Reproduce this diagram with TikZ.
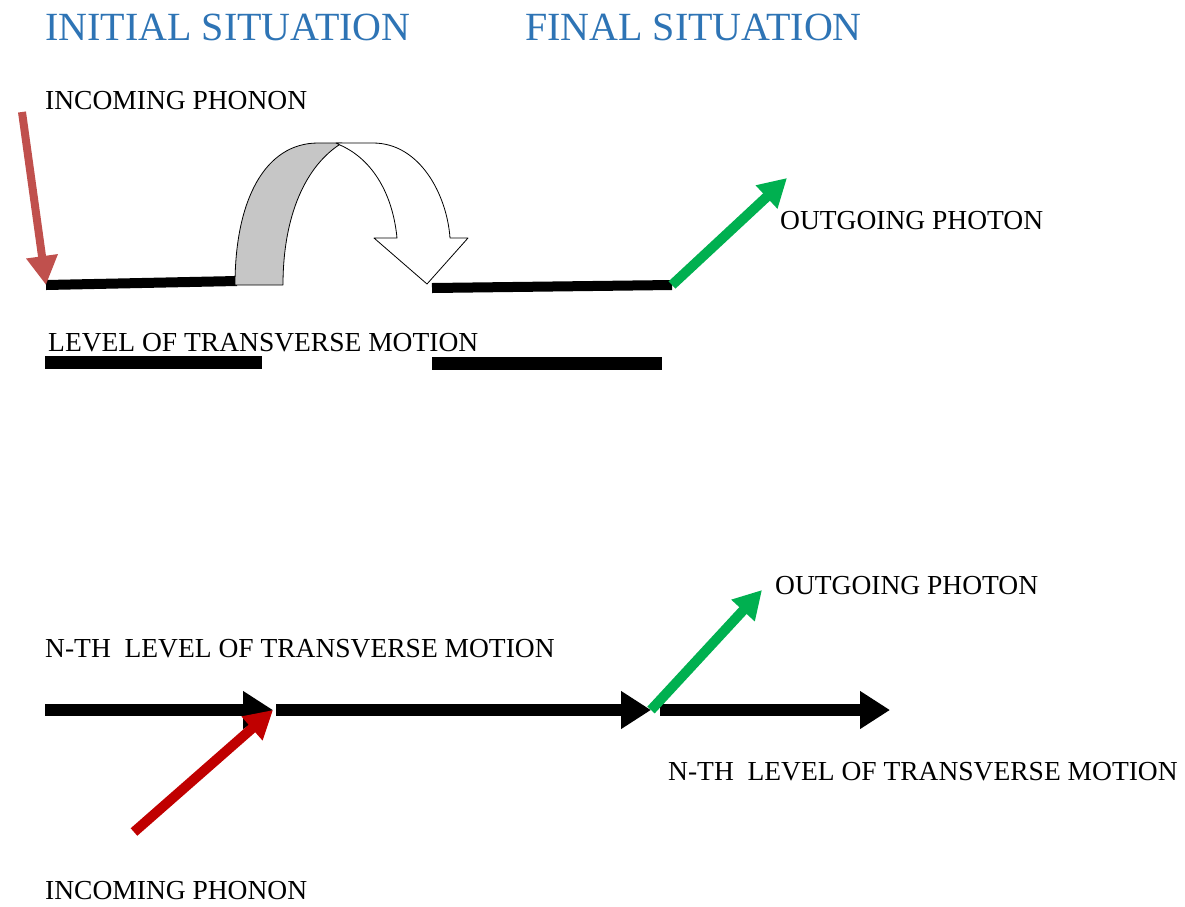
\documentclass[tikz,border=0pt]{standalone}
\usepackage{fontspec}
\setmainfont{Liberation Serif}
\usetikzlibrary{arrows.meta}
\definecolor{titleblue}{HTML}{2E74B5}
\definecolor{softred}{HTML}{C0504D}
\definecolor{darkred}{HTML}{C00000}
\definecolor{brightgreen}{HTML}{00B050}
\tikzset{
  lbl/.style={anchor=base west, inner sep=0pt, font=\fontsize{27.5}{30}\selectfont},
  ttl/.style={anchor=base west, inner sep=0pt, text=titleblue, font=\fontsize{40}{44}\selectfont},
  level/.style={line width=10pt, black},
  bar/.style={line width=13pt, black},
  redarrow/.style={line width=8pt, softred, -{Triangle[width=30pt,length=29pt]}},
  darkredarrow/.style={line width=10pt, darkred, -{Triangle[width=30pt,length=28pt]}},
  greenarrow/.style={line width=10pt, brightgreen, -{Triangle[width=30pt,length=28pt]}},
  blackarrow/.style={line width=12pt, black, -{Triangle[width=36pt,length=30pt]}},
  ribbon/.style={draw=black, line width=0.8pt, line join=round}
}
\begin{document}
\begin{tikzpicture}[x=1pt,y=-1pt]
\useasboundingbox (0,0) rectangle (1185,906);
% titles
\node[ttl] (tinit) at (45,40) {INITIAL SITUATION};
\node[ttl] (tfinal) at (525,40) {FINAL SITUATION};
% top part
\node[lbl] (inc1) at (45,109) {INCOMING PHONON};
\node[lbl] (out1) at (780,229) {OUTGOING PHOTON};
\node[lbl] (lev1) at (48,351) {LEVEL OF TRANSVERSE MOTION};
\coordinate (r1s) at (22,112);
\coordinate (l1a) at (46,285);
\coordinate (l1b) at (237,281);
\coordinate (l2a) at (432,288);
\coordinate (l2b) at (672,285);
\coordinate (g1e) at (787,178);
\draw[level] (l1a) -- (l1b);
\draw[level] (l2a) -- (l2b);
\draw[redarrow] (r1s) -- (l1a);
\draw[greenarrow] (l2b) -- (g1e);
\coordinate (b1a) at (45,362);
\coordinate (b1b) at (262,362);
\coordinate (b2a) at (432,363);
\coordinate (b2b) at (662,363);
\draw[bar] (b1a) -- (b1b);
\draw[bar] (b2a) -- (b2b);
% curved ribbon arrow
\filldraw[ribbon, fill=gray!45] (235,285) .. controls (235,200) and (265,143) .. (318,143)
   -- (342,143)
   .. controls (306,165) and (283,215) .. (283,285) -- cycle;
\filldraw[ribbon, fill=white] (336,143) -- (373,143)
   .. controls (420,143) and (447,195) .. (450,238)
   -- (468,238) -- (427,284) -- (374,238) -- (397,238)
   .. controls (393,196) and (374,160) .. (340,145) -- cycle;
% bottom part
\node[lbl] (out2) at (775,594) {OUTGOING PHOTON};
\node[lbl] (lev2) at (45,657) {N-TH\ \ LEVEL OF TRANSVERSE MOTION};
\node[lbl] (lev3) at (668,780) {N-TH\ \ LEVEL OF TRANSVERSE MOTION};
\node[lbl] (inc2) at (45,899) {INCOMING PHONON};
\coordinate (a1s) at (45,710);
\coordinate (a1e) at (273,710);
\coordinate (a2s) at (276,710);
\coordinate (a2e) at (651,710);
\coordinate (a3s) at (660,710);
\coordinate (a3e) at (890,710);
\coordinate (r2s) at (134,832);
\coordinate (g2e) at (762,590);
\draw[blackarrow] (a1s) -- (a1e);
\draw[blackarrow] (a2s) -- (a2e);
\draw[blackarrow] (a3s) -- (a3e);
\draw[darkredarrow] (r2s) -- (a1e);
\draw[greenarrow] (a2e) -- (g2e);
\end{tikzpicture}
\end{document}
